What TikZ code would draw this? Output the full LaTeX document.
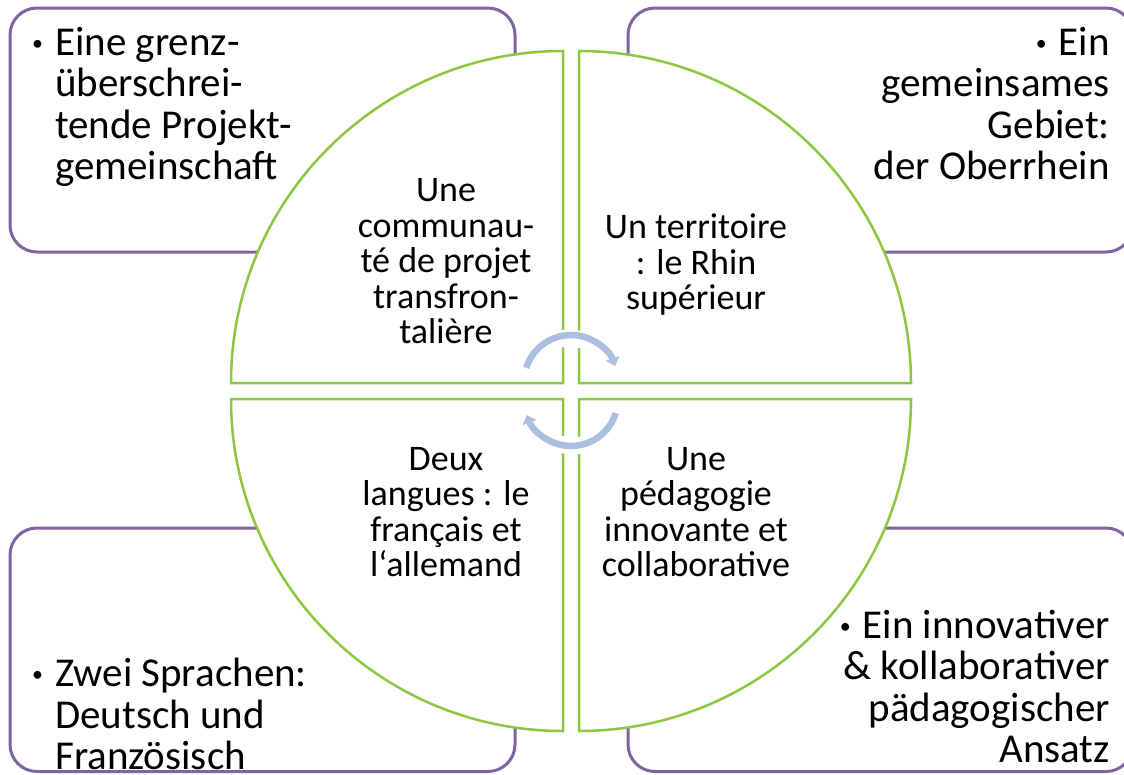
\documentclass[tikz,border=0pt]{standalone}
\usepackage{fontspec}
\setmainfont{Carlito}
\usetikzlibrary{arrows.meta}
\definecolor{boxpurple}{RGB}{128,100,162}
\definecolor{quadgreen}{RGB}{141,198,63}
\definecolor{arrowblue}{RGB}{172,190,224}
\newcommand{\bdot}{\raisebox{5pt}{\fontsize{22}{22}\selectfont•}}
\tikzset{
  box/.style={draw=boxpurple, line width=3pt, rounded corners=27pt},
  quad/.style={draw=quadgreen, line width=2.5pt, fill=white},
  cyc/.style={draw=arrowblue, line width=6.5pt, -{Triangle[width=14pt,length=8pt]}},
  halo/.style={draw=white, line width=17pt},
  big/.style={font={\fontsize{41}{41.5}\selectfont\lineskiplimit=-100pt}, inner sep=0pt},
  small/.style={font={\fontsize{36}{35.5}\selectfont\lineskiplimit=-100pt}, inner sep=0pt, align=center, anchor=north},
}
\begin{document}
\begin{tikzpicture}[x=1pt,y=-1pt]
\clip (0,0) rectangle (1124,774);
\fill[white] (0,0) rectangle (1124,774);
% corner boxes
\draw[box] (10,8) rectangle (515,252);
\draw[box] (628,8) rectangle (1133,252);
\draw[box] (10,528) rectangle (515,771.5);
\draw[box] (628,528) rectangle (1133,771.5);
% quadrants
\draw[quad] (563,383) -- (231,383) arc[start angle=180,end angle=90,radius=332pt] -- cycle;
\draw[quad] (579,383) -- (579,51) arc[start angle=90,end angle=0,radius=332pt] -- cycle;
\draw[quad] (579,399) -- (911,399) arc[start angle=0,end angle=-90,radius=332pt] -- cycle;
\draw[quad] (563,399) -- (563,731) arc[start angle=270,end angle=180,radius=332pt] -- cycle;
% circular arrows
\draw[halo] (536,352) arc[start angle=135,end angle=45,radius=47pt];
\draw[halo] (606,432) arc[start angle=-45,end angle=-135,radius=47pt];
\draw[cyc] (526.2,367.9) arc[start angle=162.5,end angle=20,radius=47pt];
\draw[cyc] (615.8,413.1) arc[start angle=-17.5,end angle=-160,radius=47pt];
% box texts
\node[big, anchor=north west, align=left] (tltext) at (55,23)
  {\rule{0pt}{32pt}\llap{\bdot\hspace{12pt}}Eine grenz-\\überschrei-\\tende Projekt-\\gemeinschaft};
\node[big, anchor=north east, align=right] (trtext) at (1110,23)
  {\rule{0pt}{32pt}\bdot\hspace{12pt}Ein\\gemeinsames\\Gebiet:\\der Oberrhein};
\node[big, anchor=north west, align=left] (bltext) at (55,654.7)
  {\rule{0pt}{32pt}\llap{\bdot\hspace{12pt}}Zwei Sprachen:\\Deutsch und\\Französisch};
\node[big, anchor=north east, align=right] (brtext) at (1110,606)
  {\rule{0pt}{32pt}\bdot\hspace{12pt}Ein innovativer\\\& kollaborativer\\pädagogischer\\Ansatz};
% quadrant texts
\node[small] (tlq) at (446,173.7)
  {\rule{0pt}{28pt}Une\\communau-\\té de projet\\transfron-\\talière};
\node[small] (trq) at (696,210.3)
  {\rule{0pt}{28pt}Un territoire\\: le Rhin\\supérieur};
\node[small] (blq) at (446,442)
  {\rule{0pt}{28pt}Deux\\langues : le\\français et\\l‘allemand};
\node[small] (brq) at (696,442)
  {\rule{0pt}{28pt}Une\\pédagogie\\innovante et\\collaborative};
\end{tikzpicture}
\end{document}
